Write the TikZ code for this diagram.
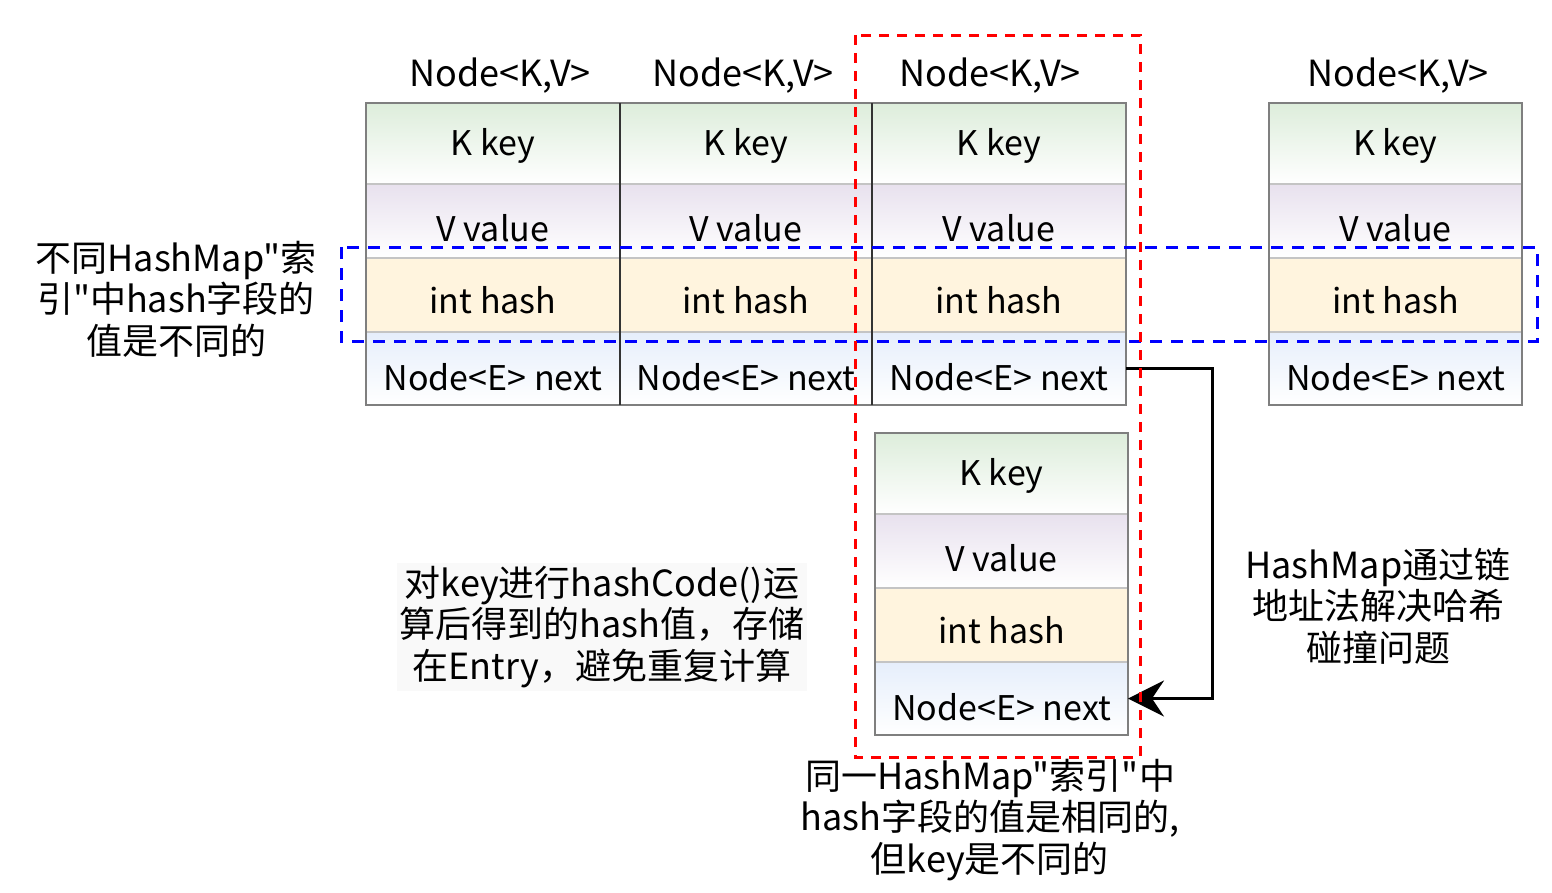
\documentclass[tikz,border=0pt]{standalone}
\usepackage{fontspec}
\setmainfont{Noto Sans CJK SC}[Ligatures=TeXOff]
\usetikzlibrary{arrows.meta}
\definecolor{keyc}{HTML}{DDEDDB}
\definecolor{valc}{HTML}{E8E1EE}
\definecolor{hashc}{HTML}{FFF4DE}
\definecolor{nextc}{HTML}{E6EEFB}
\definecolor{rowline}{HTML}{C4C4C4}
\definecolor{outline}{HTML}{7F7F7F}
\tikzset{
  cell/.style={rectangle, inner sep=0pt, outer sep=0pt, draw=rowline, line width=1.5pt, anchor=north},
  outerbox/.style={draw=outline, line width=2.5pt},
  txt/.style={inner sep=0pt, font=\fontsize{34}{40}\selectfont},
  title/.style={inner sep=0pt, font=\fontsize{36}{40}\selectfont},
  note/.style={inner sep=3pt, align=center, font=\fontsize{36}{41.5}\selectfont},
  bluebox/.style={draw={rgb,255:red,0;green,0;blue,255}, line width=3pt, dash pattern=on 12pt off 9pt},
  redbox/.style={draw={rgb,255:red,255;green,0;blue,0}, line width=3pt, dash pattern=on 10pt off 8pt},
  link/.style={draw=black, line width=3pt, -{Stealth[length=36pt,width=36pt,inset=12pt]}}
}
\newcommand\entry[4]{%
  \node[cell, minimum width=#4, minimum height=81, top color=keyc, bottom color=white] (#1k) at (#2,#3) {};
  \node[cell, minimum width=#4, minimum height=74, top color=valc, bottom color=white] (#1v) at (#1k.south) {};
  \node[cell, minimum width=#4, minimum height=74, fill=hashc] (#1h) at (#1v.south) {};
  \node[cell, minimum width=#4, minimum height=73, top color=nextc, bottom color=white] (#1n) at (#1h.south) {};
  \draw[outerbox] (#1k.north west) rectangle (#1n.south east);
  \node[txt] (#1kt) at (#2,#3+43) {K key};
  \node[txt] (#1vt) at (#2,#3+125) {V value};
  \node[txt] (#1ht) at (#2,#3+197) {int hash};
  \node[txt] (#1nt) at (#2,#3+274) {Node<E> next};
}
\begin{document}
\begin{tikzpicture}[x=1pt,y=-1pt]
\useasboundingbox (0,0) rectangle (1552,892);
\entry{a}{493}{103}{254}
\entry{b}{746}{103}{252}
\entry{c}{999}{103}{254}
\entry{d}{1395.5}{103}{253}
\entry{e}{1001.5}{433}{253}
\draw[line width=2pt, draw=black!80] (ak.north east) -- (an.south east);
\draw[line width=2pt, draw=black!80] (bk.north east) -- (bn.south east);
\node[title] (ta) at (500,76) {Node<K,V>};
\node[title] (tb) at (743,76) {Node<K,V>};
\node[title] (tc) at (990,76) {Node<K,V>};
\node[title] (td) at (1398,76) {Node<K,V>};
\draw[link] (cn.east) -- ++(86,0) |- (en.east);
\draw[bluebox] (341,247) rectangle (1537,341);
\draw[redbox] (855,35) rectangle (1140,757);
\node[note] (left) at (176,299) {不同HashMap"索\\引"中hash字段的\\值是不同的};
\node[note, fill=gray!5] (mid) at (602,627) {对key进行hashCode()运\\算后得到的hash值，存储\\在Entry，避免重复计算};
\node[note] (right) at (1378,606) {HashMap通过链\\地址法解决哈希\\碰撞问题};
\node[note] (bottom) at (990,820) {同一HashMap"索引"中\\hash字段的值是相同的,\\但key是不同的};
\end{tikzpicture}
\end{document}
